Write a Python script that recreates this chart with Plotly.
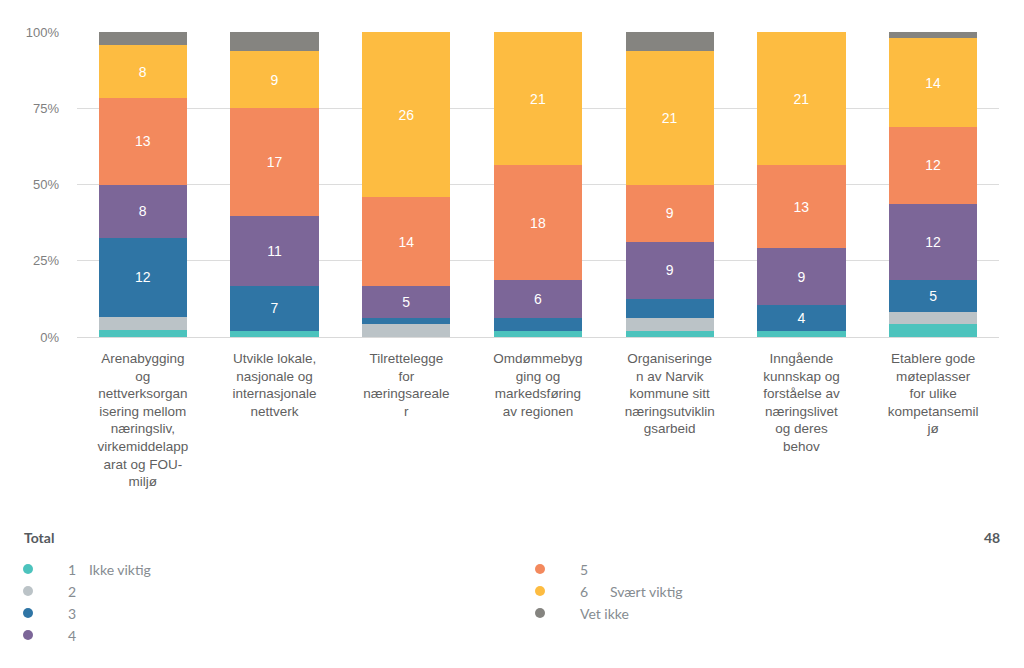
import plotly.graph_objects as go

categories = [
    "Arenabygging<br>og<br>nettverksorgan<br>isering mellom<br>næringsliv,<br>virkemiddelapp<br>arat og FOU-<br>miljø",
    "Utvikle lokale,<br>nasjonale og<br>internasjonale<br>nettverk",
    "Tilrettelegge<br>for<br>næringsareale<br>r",
    "Omdømmebyg<br>ging og<br>markedsføring<br>av regionen",
    "Organiseringe<br>n av Narvik<br>kommune sitt<br>næringsutviklin<br>gsarbeid",
    "Inngående<br>kunnskap og<br>forståelse av<br>næringslivet<br>og deres<br>behov",
    "Etablere gode<br>møteplasser<br>for ulike<br>kompetansemil<br>jø",
]
cat_ids = ["c1", "c2", "c3", "c4", "c5", "c6", "c7"]

series_names = ["1", "2", "3", "4", "5", "6", "Vet ikke"]
series_labels = ["1   Ikke viktig", "2", "3", "4", "5", "6   Svært viktig", "Vet ikke"]
v1 = [1, 1, 0, 1, 1, 1, 2]
v2 = [2, 0, 2, 0, 2, 0, 2]
v3 = [12, 7, 1, 2, 3, 4, 5]
v4 = [8, 11, 5, 6, 9, 9, 12]
v5 = [13, 17, 14, 18, 9, 13, 12]
v6 = [8, 9, 26, 21, 21, 21, 14]
v_vet = [2, 3, 0, 0, 3, 0, 1]
total_n = 48

colors = ["#4CC3BD", "#BBC3C7", "#2F75A5", "#7C6698", "#F3895D", "#FDBC41", "#858480"]
all_values = [v1, v2, v3, v4, v5, v6, v_vet]

# page is rendered with an 8px body margin
OFF = 8
W, H = 1024 - OFF, 668 - OFF
ML, MR, MT, MB = 69, 25, 24, 331
PL, PR, PT, PB = ML, W - MR, MT, H - MB

fig = go.Figure()
for name, vals, col in zip(series_names, all_values, colors):
    fig.add_trace(go.Bar(
        x=cat_ids, y=vals, name=name,
        marker=dict(color=col, line=dict(width=0)),
        text=[str(v) if v >= 4 else "" for v in vals],
        textposition="inside", insidetextanchor="middle",
        textangle=0, constraintext="none",
        textfont=dict(color="white", size=14, family="Liberation Sans, Arial"),
        hoverinfo="skip",
    ))

fig.update_layout(
    barmode="stack", barnorm="percent", bargap=0.33,
    width=W, height=H,
    margin=dict(l=ML, r=MR, t=MT, b=MB, pad=0),
    paper_bgcolor="white", plot_bgcolor="white",
    showlegend=False,
    xaxis=dict(
        tickmode="array", tickvals=cat_ids, ticktext=categories,
        tickfont=dict(size=13.5, color="#5f5f5f", family="Liberation Sans, Arial"),
        showgrid=False, showline=True, linecolor="#d9d9d9", linewidth=1,
        ticks="", ticklen=0, ticklabelstandoff=9,
    ),
    yaxis=dict(
        range=[0, 100], tickvals=[0, 25, 50, 75, 100],
        ticktext=["0%", "25%", "50%", "75%", "100%"],
        tickfont=dict(size=13, color="#7f7f7f", family="Liberation Sans, Arial"),
        showgrid=True, gridcolor="#dcdcdc", gridwidth=1,
        zeroline=False, ticks="", ticklabelstandoff=17,
    ),
)

# Custom legend area, positions given in page pixels
def px(xpage):
    return (xpage - OFF - PL) / (PR - PL)

def py(ypage):
    return (PB - (ypage - OFF)) / (PB - PT)

legend_font = dict(size=14, color="#868c91", family="Lato")
fig.add_annotation(xref="paper", yref="paper", x=px(22), y=py(537), xanchor="left", yanchor="middle",
                   text="<b>Total</b>", showarrow=False,
                   font=dict(size=14, color="#555a5e", family="Lato"))
fig.add_annotation(xref="paper", yref="paper", x=px(1002), y=py(537), xanchor="right", yanchor="middle",
                   text="<b>%d</b>" % total_n, showarrow=False,
                   font=dict(size=14, color="#555a5e", family="Lato"))

positions = [(28, 569), (28, 591), (28, 613), (28, 635), (540, 569), (540, 591), (540, 613)]
for (cx, cy), lab, col in zip(positions, series_labels, colors):
    r = 5
    fig.add_shape(type="circle", xref="paper", yref="paper",
                  x0=px(cx - r), x1=px(cx + r), y0=py(cy + r), y1=py(cy - r),
                  fillcolor=col, line=dict(width=0))
    parts = lab.split("   ")
    fig.add_annotation(xref="paper", yref="paper", x=px(cx + 38), y=py(cy), xanchor="left", yanchor="middle",
                       text=parts[0], showarrow=False, font=legend_font)
    if len(parts) > 1:
        fig.add_annotation(xref="paper", yref="paper", x=px(cx + 59 + (9 if cx > 100 else 0)), y=py(cy),
                           xanchor="left", yanchor="middle",
                           text=parts[1], showarrow=False, font=legend_font)

fig.write_html("out.html")
